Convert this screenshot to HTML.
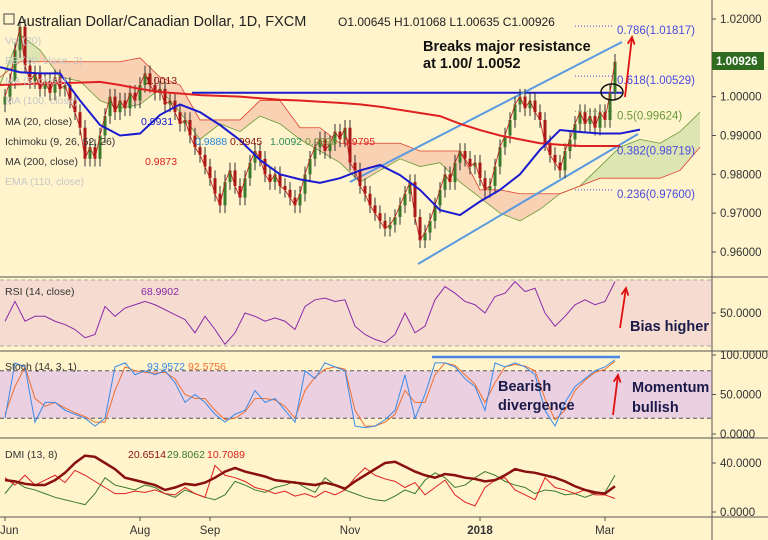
<!DOCTYPE html>
<html><head><meta charset="utf-8">
<style>
html,body{margin:0;padding:0;background:#fff4cc;}
svg{display:block;font-family:"Liberation Sans",sans-serif;}
</style></head>
<body>
<svg id="chart" width="768" height="540" viewBox="0 0 768 540">
<rect x="0" y="0" width="768" height="540" fill="#fff4cc"/>
<g id="main"></g>
<g id="rsi"></g>
<g id="stoch"></g>
<g id="dmi"></g>
<g id="axes"></g>
</svg>
<script>
// ---- data ----
const closes=[1.000,1.004,1.012,1.018,1.008,1.004,1.006,1.002,1.004,1.001,1.005,1.002,1.003,0.999,0.996,0.992,0.984,0.987,0.984,0.990,0.995,1.000,0.996,0.999,0.997,1.001,0.999,1.003,1.006,1.003,1.001,1.002,0.998,0.999,0.996,0.993,0.994,0.990,0.987,0.985,0.982,0.979,0.975,0.972,0.978,0.981,0.977,0.974,0.979,0.983,0.986,0.984,0.980,0.978,0.980,0.977,0.976,0.974,0.972,0.975,0.980,0.984,0.987,0.989,0.986,0.988,0.991,0.989,0.992,0.983,0.981,0.977,0.975,0.972,0.970,0.968,0.966,0.967,0.969,0.972,0.975,0.978,0.969,0.963,0.965,0.968,0.972,0.976,0.980,0.978,0.983,0.986,0.984,0.982,0.983,0.979,0.976,0.977,0.982,0.987,0.990,0.994,0.998,1.000,0.997,0.999,0.996,0.994,0.988,0.985,0.983,0.981,0.986,0.989,0.993,0.996,0.993,0.995,0.992,0.996,0.994,1.001,1.009];
const firstOpen=0.998;
// line series sampled every 20px of time (x = 20*i)
const ma20=[1.0076,1.0063,1.0060,1.0060,0.9990,0.9927,0.9900,0.9905,0.9953,0.9980,0.9960,0.9927,0.9888,0.9837,0.9800,0.9787,0.9778,0.9790,0.9810,0.9824,0.9798,0.9760,0.9708,0.9695,0.9730,0.9760,0.9800,0.9863,0.9914,0.9909,0.9905,0.9905,0.9915];
const ma200=[1.0030,1.0032,1.0034,1.0035,1.0036,1.0038,1.0030,1.0020,1.0012,1.0008,1.0004,1.0002,1.0000,0.9996,0.9992,0.9990,0.9987,0.9984,0.9980,0.9974,0.9966,0.9958,0.9950,0.9930,0.9914,0.9900,0.9890,0.9880,0.9876,0.9873,0.9873,0.9873];
const spanA=[1.003,1.016,1.012,1.005,1.004,0.999,0.997,0.998,1.002,0.996,0.989,0.993,0.991,0.995,0.993,0.989,0.986,0.983,0.978,0.981,0.984,0.982,0.983,0.978,0.974,0.970,0.968,0.971,0.975,0.977,0.982,0.987,0.989,0.988,0.991,0.996];
const spanB=[1.005,1.009,1.009,1.009,1.009,1.009,1.009,1.010,1.005,1.003,0.994,0.994,0.994,0.999,0.999,0.992,0.992,0.988,0.988,0.988,0.988,0.986,0.986,0.986,0.976,0.976,0.975,0.975,0.975,0.977,0.979,0.979,0.979,0.979,0.981,0.987];
// oscillators sampled every 2 bars
const rsiVals=[45,57,45,48,48,45,43,40,35,37,54,48,53,55,57,55,52,49,46,38,48,40,31,38,50,48,45,47,45,40,54,58,59,57,58,42,37,34,32,37,50,38,42,58,66,62,57,55,50,60,62,69,63,65,50,42,48,55,58,55,57,69];
const stochK=[20,90,85,15,40,40,30,25,20,10,20,85,90,75,80,75,80,65,40,50,40,25,15,25,30,55,40,45,30,15,80,70,90,85,80,10,8,10,18,30,75,20,50,90,90,85,70,60,30,90,85,90,85,75,30,10,40,60,70,80,85,94];
const stochD=[25,60,85,45,35,40,33,27,22,15,15,55,85,80,78,77,78,70,50,45,45,30,18,20,28,45,45,43,35,20,55,72,82,85,82,30,10,10,15,25,55,40,40,75,90,87,75,63,40,65,85,88,86,80,45,18,30,55,68,78,82,92];
const adx=[26,25,23,22,22,26,32,40,46,45,40,35,28,26,24,22,18,20,23,22,24,28,33,36,33,31,29,26,25,24,23,22,24,22,19,25,30,35,40,41,37,33,30,28,31,30,28,27,25,26,30,35,33,32,30,28,25,21,18,16,15,21];
const diPlus=[15,25,20,18,15,12,10,8,6,15,28,22,20,18,22,20,15,12,18,15,12,10,14,25,22,18,16,20,22,25,20,16,28,22,18,15,12,10,9,13,18,15,26,32,28,20,22,28,33,30,25,22,20,15,18,17,14,15,12,15,16,30];
const diMinus=[28,22,30,22,26,30,24,34,30,25,20,15,15,17,16,18,15,14,20,15,12,38,30,28,25,20,18,15,17,13,15,12,17,14,18,28,36,30,27,25,20,24,14,20,26,14,8,5,20,26,28,18,14,10,28,20,18,15,18,14,14,11];
const priceTicks=[1.02,1.01,1.00,0.99,0.98,0.97,0.96];
const priceTickLabels=["1.02000","1.01000","1.00000","0.99000","0.98000","0.97000","0.96000"];
const monthLabels=["Jun","Aug","Sep","Nov","2018","Mar"];
const monthBars=[0,27,41,69,95,120];
const fibLevels=[1.01817,1.00529,0.99624,0.98719,0.97600];
const fibLabels=["0.786(1.01817)","0.618(1.00529)","0.5(0.99624)","0.382(0.98719)","0.236(0.97600)"];
const resistance=1.001;

// ---- scales ----
const NS='http://www.w3.org/2000/svg';
const barX=i=>5+5*i;
const py=p=>19+(1.02-p)*3883;
const rsiY=v=>313-(v-50)*1.65;
const stY=v=>434-v*0.79;
const dmiY=v=>512-v*1.225;
function mk(tag,attrs,parent){const e=document.createElementNS(NS,tag);for(const k in attrs)e.setAttribute(k,attrs[k]);parent.appendChild(e);return e;}
function txt(s,attrs,parent){const e=mk('text',attrs,parent);e.textContent=s;return e;}
const G=id=>document.getElementById(id);
const main=G('main'),rsiG=G('rsi'),stG=G('stoch'),dmiG=G('dmi'),ax=G('axes');

// Ichimoku cloud
for(let i=0;i<spanA.length-1;i++){
  const x0=20*i,x1=20*(i+1);
  const up=(spanA[i]+spanA[i+1])>=(spanB[i]+spanB[i+1]);
  const q=mk('polygon',{points:`${x0},${py(spanA[i])} ${x1},${py(spanA[i+1])} ${x1},${py(spanB[i+1])} ${x0},${py(spanB[i])}`,fill:up?'#d9e3b0':'#f8cdb0',opacity:'0.9'},main);
  
  
}
function poly(arr,xf,yf,attrs,parent,name){
  const pts=arr.map((v,i)=>xf(i)+','+yf(v)).join(' ');
  const e=mk('polyline',Object.assign({points:pts,fill:'none'},attrs),parent);
  
  
  return e;
}
poly(spanA,i=>20*i,py,{stroke:'#6a9a3a','stroke-width':0.8},main,'ichimoku-span-a');
poly(spanB,i=>20*i,py,{stroke:'#e04030','stroke-width':0.8},main,'ichimoku-span-b');

// fib lines
const fibColors=['#4a4ae0','#4a4ae0','#6a9a3a','#4a4ae0','#4a4ae0'];
fibLevels.forEach((f,i)=>{
  const l=mk('line',{x1:575,x2:612,y1:py(f),y2:py(f),stroke:fibColors[i],'stroke-width':1,'stroke-dasharray':'1,2'},main);
  
  
  const t=txt(fibLabels[i],{x:617,y:py(f)+8,'font-size':11.5,fill:fibColors[i]},main);
  
  
});

// resistance and channel
mk('line',{x1:192,x2:622,y1:py(resistance),y2:py(resistance),stroke:'#1a1ad0','stroke-width':2,},main);
mk('line',{x1:350,y1:182,x2:622,y2:42,stroke:'#5a9ae0','stroke-width':2,},main);
mk('line',{x1:418,y1:264,x2:638,y2:134,stroke:'#5a9ae0','stroke-width':2,},main);

// candles
closes.forEach((c,i)=>{
  const o=i===0?firstOpen:closes[i-1];
  const hi=Math.max(o,c)+0.002,lo=Math.min(o,c)-0.002;
  const x=barX(i),col=c>=o?'#3a7a2a':'#a81818';
  const w=mk('line',{x1:x,x2:x,y1:py(hi),y2:py(lo),stroke:'#333','stroke-width':1},main);
  
  
  const b=mk('rect',{x:x-1.5,y:py(Math.max(o,c)),width:3,height:Math.max(1,Math.abs(py(o)-py(c))),fill:col},main);
  
  
});
poly(closes,barX,py,{stroke:'#c01818','stroke-width':0.8},main,'fast-ma-line');
poly(ma200,i=>20*i,py,{stroke:'#e02020','stroke-width':2},main,'ma200-line');
poly(ma20,i=>20*i,py,{stroke:'#1a1ad0','stroke-width':2},main,'ma20-line');

// annotations
mk('ellipse',{cx:612,cy:92,rx:11,ry:8,fill:'none',stroke:'#111','stroke-width':1.5,},main);
function arrow(x1,y1,x2,y2,parent,name){
  const l=mk('line',{x1,y1,x2,y2,stroke:'#e01010','stroke-width':1.8},parent);
  
  
  const a=Math.atan2(y2-y1,x2-x1),s=8;
  const h=mk('polyline',{points:`${x2-s*Math.cos(a-0.45)},${y2-s*Math.sin(a-0.45)} ${x2},${y2} ${x2-s*Math.cos(a+0.45)},${y2-s*Math.sin(a+0.45)}`,fill:'none',stroke:'#e01010','stroke-width':1.8},parent);
  
  
}
arrow(625,97,632,37,main,'breakout-arrow');
txt('Breaks major resistance',{x:423,y:51,'font-size':14.5,'font-weight':'bold',fill:'#111',},main);
txt('at 1.00/ 1.0052',{x:423,y:68,'font-size':14.5,'font-weight':'bold',fill:'#111',},main);

// legend
txt('Australian Dollar/Canadian Dollar, 1D, FXCM',{x:17,y:26,'font-size':14.5,fill:'#222',},main);
mk('rect',{x:4,y:14,width:10,height:10,fill:'none',stroke:'#444',},main);
txt('O1.00645  H1.01068  L1.00635  C1.00926',{x:338,y:26,'font-size':12,fill:'#222','xml:space':'preserve',},main);
const rows=[['Vol (20)',40,'#c8c8c8'],['BB (20, close, 2)',60,'#c8c8c8'],['MA (5, close)',80,'#c8c8c8'],['MA (100, close)',100,'#c8c8c8'],['MA (20, close)',121,'#333'],['Ichimoku (9, 26, 52, 26)',141,'#333'],['MA (200, close)',161,'#333'],['EMA (110, close)',181,'#c8c8c8']];
rows.forEach(r=>{
  const t=txt(r[0],{x:5,y:r[1]+4,'font-size':10.5,fill:r[2]},main);
  
  
});
txt('1.0013',{x:145,y:84,'font-size':10.5,fill:'#8a1010',},main);
txt('0.9931',{x:141,y:125,'font-size':10.5,fill:'#1a1ad0',},main);
[['0.9888',195,'#2a8ae0'],['0.9945',230,'#8a1010'],['1.0092',270,'#2a8a5a'],['0.9898',305,'#6a9a3a'],['0.9795',343,'#e02020']].forEach(v=>{
  const t=txt(v[0],{x:v[1],y:145,'font-size':10.5,fill:v[2]},main);
  
  
});
txt('0.9873',{x:145,y:165,'font-size':10.5,fill:'#e02020',},main);

// RSI pane
mk('rect',{x:0,y:rsiY(70),width:712,height:rsiY(30)-rsiY(70),fill:'#f6dcd0',},rsiG);
[70,30].forEach(v=>mk('line',{x1:0,x2:712,y1:rsiY(v),y2:rsiY(v),stroke:'#aaa','stroke-dasharray':'4,3',},rsiG));
poly(rsiVals,i=>barX(2*i),rsiY,{stroke:'#8a2aa8','stroke-width':1},rsiG,'rsi-line');
txt('RSI (14, close)',{x:5,y:295,'font-size':10.5,fill:'#333',},rsiG);
txt('68.9902',{x:141,y:295,'font-size':10.5,fill:'#8a2aa8',},rsiG);
arrow(620,328,626,288,rsiG,'rsi-arrow');
txt('Bias higher',{x:630,y:331,'font-size':14.5,'font-weight':'bold',fill:'#1a1a4a',},rsiG);

// Stoch pane
mk('rect',{x:0,y:stY(80),width:712,height:stY(20)-stY(80),fill:'#ead0e0',},stG);
[80,20].forEach(v=>mk('line',{x1:0,x2:712,y1:stY(v),y2:stY(v),stroke:'#555','stroke-dasharray':'4,3',},stG));
poly(stochD,i=>barX(2*i),stY,{stroke:'#f07030','stroke-width':1},stG,'stoch-d-line');
poly(stochK,i=>barX(2*i),stY,{stroke:'#3a8ae8','stroke-width':1},stG,'stoch-k-line');
mk('line',{x1:432,x2:620,y1:357,y2:357,stroke:'#4a86e8','stroke-width':2.5,},stG);
txt('Stoch (14, 3, 1)',{x:5,y:370,'font-size':10.5,fill:'#333',},stG);
txt('93.9572',{x:147,y:370,'font-size':10.5,fill:'#3a8ae8',},stG);
txt('92.5756',{x:188,y:370,'font-size':10.5,fill:'#f07030',},stG);
txt('Bearish',{x:498,y:391,'font-size':14.5,'font-weight':'bold',fill:'#1a1a4a',},stG);
txt('divergence',{x:498,y:410,'font-size':14.5,'font-weight':'bold',fill:'#1a1a4a',},stG);
arrow(613,415,618,375,stG,'stoch-arrow');
txt('Momentum',{x:632,y:392,'font-size':14.5,'font-weight':'bold',fill:'#1a1a4a',},stG);
txt('bullish',{x:632,y:412,'font-size':14.5,'font-weight':'bold',fill:'#1a1a4a',},stG);

// DMI pane
poly(diPlus,i=>barX(2*i),dmiY,{stroke:'#3a7a2a','stroke-width':1},dmiG,'di-plus-line');
poly(diMinus,i=>barX(2*i),dmiY,{stroke:'#e02020','stroke-width':1},dmiG,'di-minus-line');
poly(adx,i=>barX(2*i),dmiY,{stroke:'#8a1010','stroke-width':2.5},dmiG,'adx-line');
txt('DMI (13, 8)',{x:5,y:458,'font-size':10.5,fill:'#333',},dmiG);
txt('20.6514',{x:128,y:458,'font-size':10.5,fill:'#8a1010',},dmiG);
txt('29.8062',{x:167,y:458,'font-size':10.5,fill:'#3a7a2a',},dmiG);
txt('10.7089',{x:207,y:458,'font-size':10.5,fill:'#e02020',},dmiG);

// axes & borders
[277,351,438,517].forEach(y=>mk('line',{x1:0,x2:768,y1:y,y2:y,stroke:'#555','stroke-width':1,},ax));
mk('line',{x1:712,x2:712,y1:0,y2:540,stroke:'#555',},ax);
priceTicks.forEach((p,i)=>{
  mk('line',{x1:712,x2:716,y1:py(p),y2:py(p),stroke:'#555',},ax);
  const t=txt(priceTickLabels[i],{x:720,y:py(p)+4,'font-size':11.5,fill:'#333'},ax);
  
  
});
mk('rect',{x:712,y:52,width:52,height:18,fill:'#2e6b1e',},ax);
txt('1.00926',{x:716,y:65,'font-size':11.5,'font-weight':'bold',fill:'#fff',},ax);
[[50,rsiY(50)],[100,stY(100)],[50,stY(50)],[0,stY(0)],[40,dmiY(40)],[0,dmiY(0)]].forEach(v=>{
  const y=v[1];
  mk('line',{x1:712,x2:716,y1:y,y2:y,stroke:'#555',},ax);
  const t=txt(v[0].toFixed(4),{x:720,y:y+4,'font-size':11.5,fill:'#333'},ax);
  
  
});
monthLabels.forEach((m,i)=>{
  const x=barX(monthBars[i]);
  mk('line',{x1:x,x2:x,y1:517,y2:521,stroke:'#555',},ax);
  const t=txt(m,{x:x,y:534,'font-size':11.5,fill:'#333','text-anchor':i===0?'start':'middle','font-weight':m==='2018'?'bold':'normal'},ax);
  if(i===0)t.setAttribute('x',0);
  
  
});
</script>
</body></html>
